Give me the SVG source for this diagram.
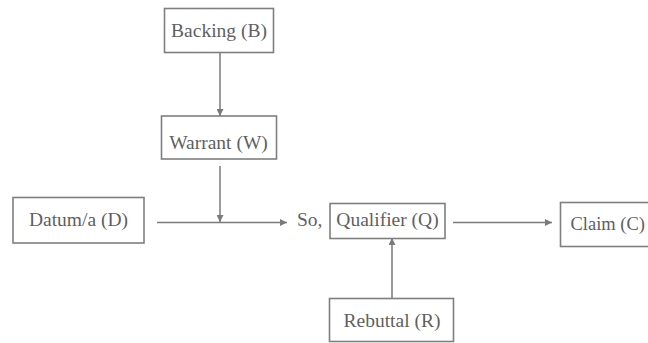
<svg xmlns="http://www.w3.org/2000/svg" width="648" height="343" viewBox="0 0 648 343">
<defs>
<marker id="ah" viewBox="0 0 10 10" refX="10" refY="5" markerWidth="8" markerHeight="7" markerUnits="userSpaceOnUse" orient="auto">
<path d="M0,0 L10,5 L0,10 z" fill="#7a7a7a"/>
</marker>
<style>
.box{fill:#fff;stroke:#7f7f7f;stroke-width:1.6}
.lbl{font-family:"Liberation Serif","Times New Roman",serif;font-size:19.5px;fill:#5f5f5f}
.c{text-anchor:middle}
.edge{stroke:#7a7a7a;stroke-width:1.5;fill:none}
</style>
</defs>
<rect width="648" height="343" fill="#fff"/>
<g id="connectors">
<line class="edge" x1="220" y1="53" x2="220" y2="116" marker-end="url(#ah)"/>
<line class="edge" x1="220" y1="166" x2="220" y2="222" marker-end="url(#ah)"/>
<line class="edge" x1="157" y1="222.5" x2="287" y2="222.5" marker-end="url(#ah)"/>
<line class="edge" x1="453" y1="222.5" x2="552" y2="222.5" marker-end="url(#ah)"/>
<line class="edge" x1="392" y1="298" x2="392" y2="238" marker-end="url(#ah)"/>
</g>
<g id="backing">
<rect class="box" x="164.5" y="8.5" width="109" height="44"/>
<text class="lbl c" x="219" y="37">Backing (B)</text>
</g>
<g id="warrant">
<rect class="box" x="161.5" y="116" width="115" height="43"/>
<text class="lbl c" x="218.5" y="149">Warrant (W)</text>
</g>
<g id="datum">
<rect class="box" x="13" y="197.5" width="131" height="45.5"/>
<text class="lbl c" x="78.5" y="226">Datum/a (D)</text>
</g>
<g id="so">
<text class="lbl" x="297" y="226">So,</text>
</g>
<g id="qualifier">
<rect class="box" x="330" y="203.5" width="115" height="35"/>
<text class="lbl c" x="387.5" y="226">Qualifier (Q)</text>
</g>
<g id="claim">
<rect class="box" x="560.5" y="202.5" width="100" height="44"/>
<text class="lbl" x="570.5" y="230" style="font-size:18.5px">Claim (C)</text>
</g>
<g id="rebuttal">
<rect class="box" x="329.5" y="298.5" width="124" height="43"/>
<text class="lbl c" x="392" y="327">Rebuttal (R)</text>
</g>
</svg>
